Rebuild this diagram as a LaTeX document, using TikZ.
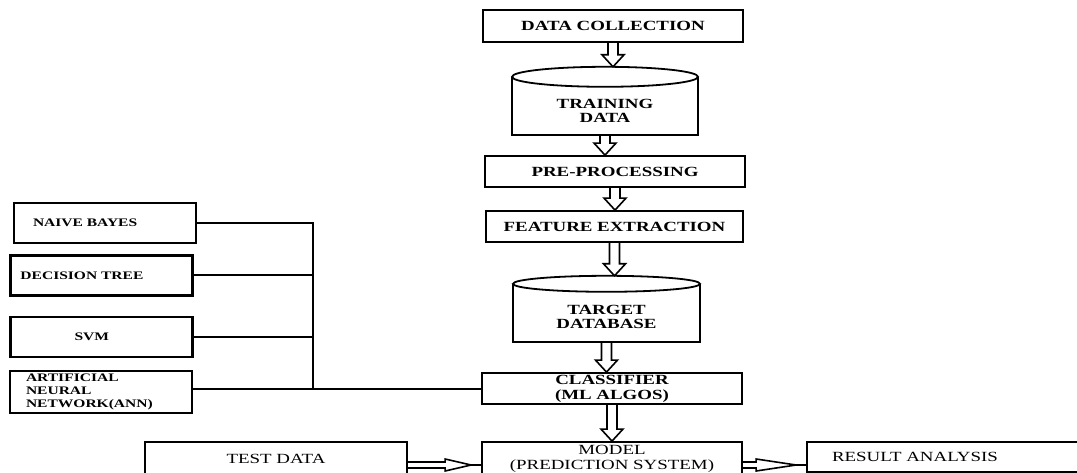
\documentclass[tikz,border=0pt]{standalone}
\usepackage{fontspec}
\setmainfont{Liberation Serif}[FakeStretch=1.35]
\usetikzlibrary{calc}

\begin{document}
\begin{tikzpicture}[x=1pt, y=-1pt]
	\tikzstyle{box} = [ draw, rectangle, line width=1.8pt, inner sep=0pt, align=center, font={\fontsize{14}{15}\selectfont\bfseries} ];
	\tikzstyle{plain} = [ box, font={\fontsize{14}{15}\selectfont} ];
	\tikzstyle{db} = [ rectangle, inner sep=0pt, align=center, font={\fontsize{14}{13.5}\selectfont\bfseries} ];
	\tikzstyle{algo} = [ draw, rectangle, line width=2.4pt, minimum height=40pt, text width=150pt, inner xsep=16pt, align=left, font={\fontsize{11.5}{12.7}\selectfont\bfseries} ];
	\tikzstyle{wire} = [ line width=2pt ];
	\tikzstyle{hollow} = [ line width=1.6pt, line join=miter ];

	\def\blockdown#1#2{
		\draw[hollow] let \p1=(#1), \p2=(#2) in
			(\x1-5pt,\y1) -- (\x1-5pt,\y2+12pt) -- (\x1-11pt,\y2+12pt) -- (\x1,\y2)
			-- (\x1+11pt,\y2+12pt) -- (\x1+5pt,\y2+12pt) -- (\x1+5pt,\y1);
	}
	\def\blockright#1#2#3{
		\draw[hollow] let \p1=(#1), \p2=(#2) in
			(\x1,\y1+3pt) -- (\x2-#3pt-10pt,\y1+3pt) -- (\x2-#3pt-10pt,\y1+6pt) -- (\x2-10pt,\y1)
			-- (\x2-#3pt-10pt,\y1-6pt) -- (\x2-#3pt-10pt,\y1-3pt) -- (\x1,\y1-3pt);
		\draw[hollow] let \p1=(#1), \p2=(#2) in (\x2-10pt,\y1) -- (\x2,\y1);
	}

	\clip (0,0) rectangle (1077,473);

	\node[box, minimum width=260pt, minimum height=32pt] (dc) at (613,26) {DATA COLLECTION};

	\node[db, minimum width=186pt, minimum height=48pt] (train) at (605,111) {TRAINING\\DATA};
	\draw[box] ($(train.north west)+(0,-10)$) -- (train.south west) -- (train.south east) -- ($(train.north east)+(0,-10)$);
	\draw[box] ($(train.north)+(0,-10)$) ellipse [x radius=93pt, y radius=10pt];
	\coordinate (traintop) at ($(train.north)+(0,-20)$);

	\node[box, minimum width=260pt, minimum height=31pt] (pre) at (615,171.5) {PRE-PROCESSING};
	\node[box, minimum width=257pt, minimum height=31pt] (fe) at (614.5,226.5) {FEATURE EXTRACTION};

	\node[db, minimum width=187pt, minimum height=50pt] (tdb) at (606.5,317) {TARGET\\DATABASE};
	\draw[box] ($(tdb.north west)+(0,-8)$) -- (tdb.south west) -- (tdb.south east) -- ($(tdb.north east)+(0,-8)$);
	\draw[box] ($(tdb.north)+(0,-8)$) ellipse [x radius=93.5pt, y radius=8pt];
	\coordinate (tdbtop) at ($(tdb.north)+(0,-16)$);

	\node[box, minimum width=260pt, minimum height=31pt] (cls) at (612,388.5) {CLASSIFIER\\(ML ALGOS)};
	\node[plain, minimum width=260pt, minimum height=34pt] (model) at (612,459) {MODEL\\(PREDICTION SYSTEM)};
	\node[plain, minimum width=262pt, minimum height=34pt] (test) at (276,459) {TEST DATA};
	\node[plain, minimum width=283pt, minimum height=30pt, text width=233pt, inner xsep=25pt, align=left] (result) at (948.5,457) {RESULT ANALYSIS};

	\node[algo] (nb) at (105,223) {\hspace*{3pt}NAIVE BAYES};
	\node[algo] (dt) at (101.5,275.5) {\hspace*{-6pt}DECISION TREE};
	\node[algo] (svm) at (101.5,337) {\hspace*{48pt}SVM\\[8pt]};
	\node[algo] (ann) at (101,392) {ARTIFICIAL\\NEURAL\\NETWORK(ANN)};

	\blockdown{dc.south}{traintop}
	\blockdown{train.south}{pre.north}
	\blockdown{pre.south}{fe.north}
	\blockdown{fe.south}{tdbtop}
	\blockdown{tdb.south}{cls.north}
	\blockdown{cls.south}{model.north}

	\blockright{$(test.east)+(0,6)$}{model.west}{26}
	\blockright{$(model.east)+(0,6)$}{result.west}{40}

	\coordinate (bus) at (313,0);
	\draw[wire] (nb.east) -- (nb.east -| bus) -- (cls.west -| bus);
	\foreach \n in {dt,svm} {
		\draw[wire] (\n.east) -- (\n.east -| bus);
	}
	\draw[wire] (ann.east |- cls.west) -- (cls.west);

\end{tikzpicture}
\end{document}
